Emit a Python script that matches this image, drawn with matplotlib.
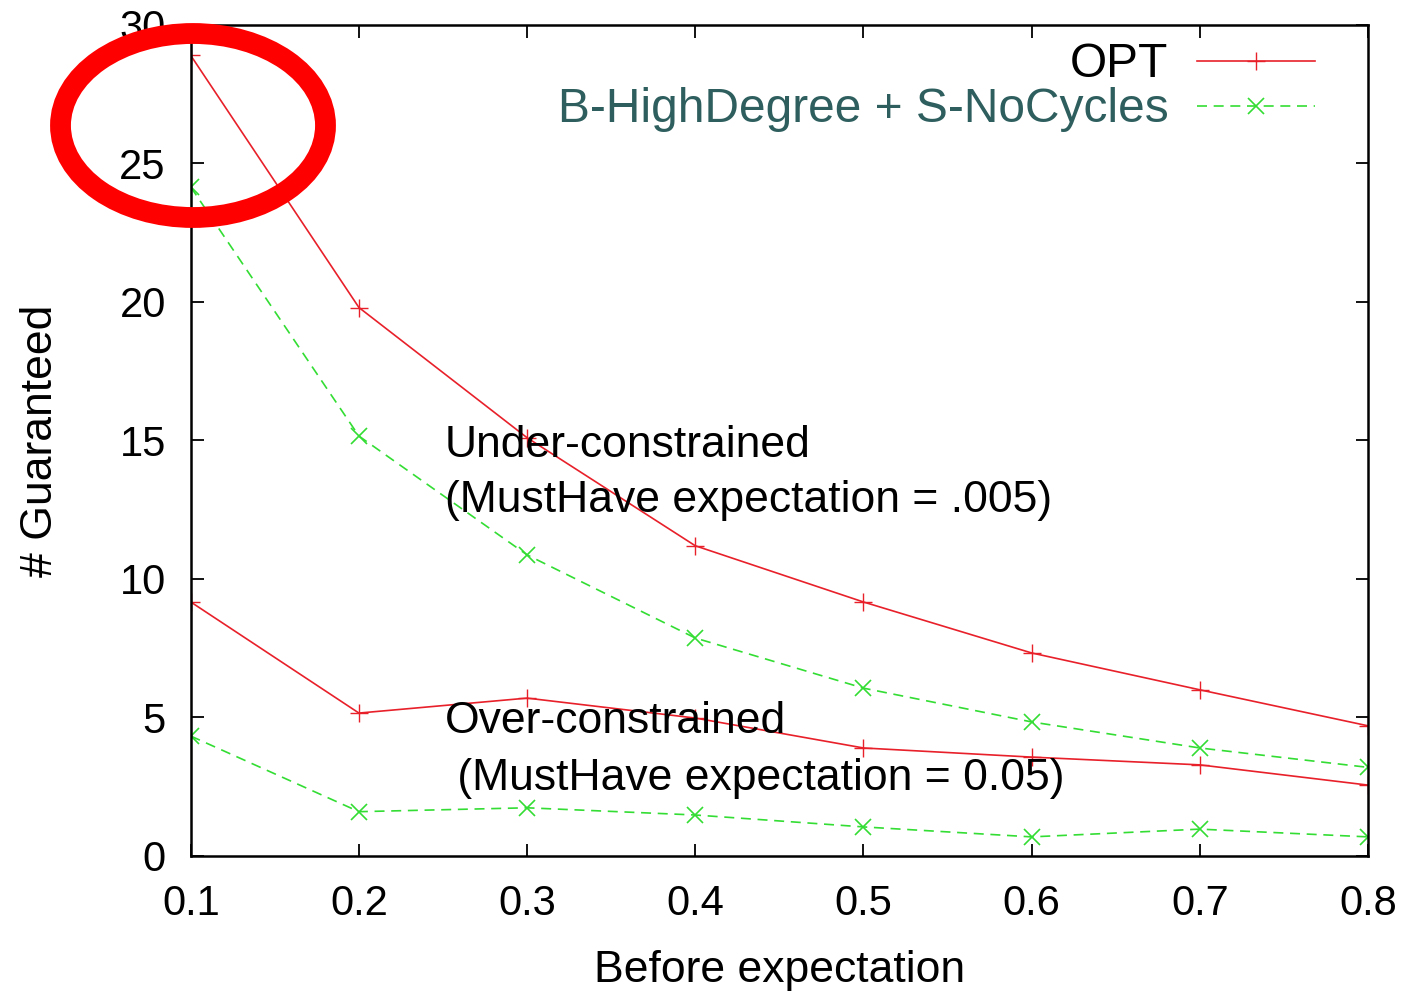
import matplotlib
matplotlib.use("Agg")
import matplotlib.pyplot as plt
from matplotlib.patches import Ellipse

plt.rcParams['font.family'] = ['Liberation Sans', 'DejaVu Sans']

# data
before = [0.1, 0.2, 0.3, 0.4, 0.5, 0.6, 0.7, 0.8]
opt_under = [28.9, 19.8, 15.1, 11.2, 9.17, 7.33, 6.0, 4.7]
heur_under = [24.15, 15.16, 10.87, 7.87, 6.06, 4.84, 3.9, 3.2]
opt_over = [9.17, 5.16, 5.7, 4.98, 3.9, 3.57, 3.29, 2.56]
heur_over = [4.33, 1.6, 1.74, 1.48, 1.05, 0.69, 0.97, 0.69]

labels = ["OPT", "B-HighDegree + S-NoCycles"]
red = "#e8202a"
green = "#33dd33"

fig = plt.figure(figsize=(14.11, 9.92), dpi=100)
ax = fig.add_axes([0.1352, 0.1371, 0.9695 - 0.1352, 0.9748 - 0.1371])

ax.plot(before, opt_under, color=red, lw=1.2, marker='+', ms=13, mew=1.0, label=labels[0])
ax.plot(before, heur_under, color=green, lw=1.2, ls=(0, (6, 4)), marker='x', ms=11, mew=1.2, label=labels[1])
ax.plot(before, opt_over, color=red, lw=1.2, marker='+', ms=13, mew=1.0)
ax.plot(before, heur_over, color=green, lw=1.2, ls=(0, (6, 4)), marker='x', ms=11, mew=1.2)

ax.set_xlim(0.1, 0.8)
ax.set_ylim(0, 30)
ax.set_xticks(before)
ax.set_xticklabels([str(b) for b in before])
ax.set_yticks([0, 5, 10, 15, 20, 25, 30])

for s in ax.spines.values():
    s.set_linewidth(1.8)
ax.tick_params(direction='in', length=9, width=1.3, labelsize=30, top=True, right=True)
ax.tick_params(axis='x', pad=20)
ax.tick_params(axis='y', pad=18)

ax.set_xlabel("Before expectation", fontsize=32, labelpad=19)
ax.set_ylabel("# Guaranteed", fontsize=32, labelpad=42)

ax.text(0.251, 14.4, "Under-constrained", fontsize=32, va='baseline')
ax.text(0.251, 12.42, "(MustHave expectation = .005)", fontsize=32, va='baseline')
ax.text(0.251, 4.44, "Over-constrained", fontsize=32, va='baseline')
ax.text(0.251, 2.38, " (MustHave expectation = 0.05)", fontsize=32, va='baseline')

leg = ax.legend(loc='upper right', bbox_to_anchor=(0.955, 0.979), frameon=False,
                markerfirst=False, fontsize=34.5, handlelength=2.46, handletextpad=0.6,
                labelspacing=0.0, borderaxespad=0, borderpad=0)
leg.get_texts()[1].set_color("#2e5e5e")

# red highlight circle drawn over the top-left corner
ring = Ellipse((193 / 1411, 1 - 125.5 / 992), 265 / 1411, 184 / 992,
               transform=fig.transFigure, fill=False, edgecolor='#ff0000',
               linewidth=15, zorder=10)
fig.add_artist(ring)

fig.savefig("out.png", dpi=100)
